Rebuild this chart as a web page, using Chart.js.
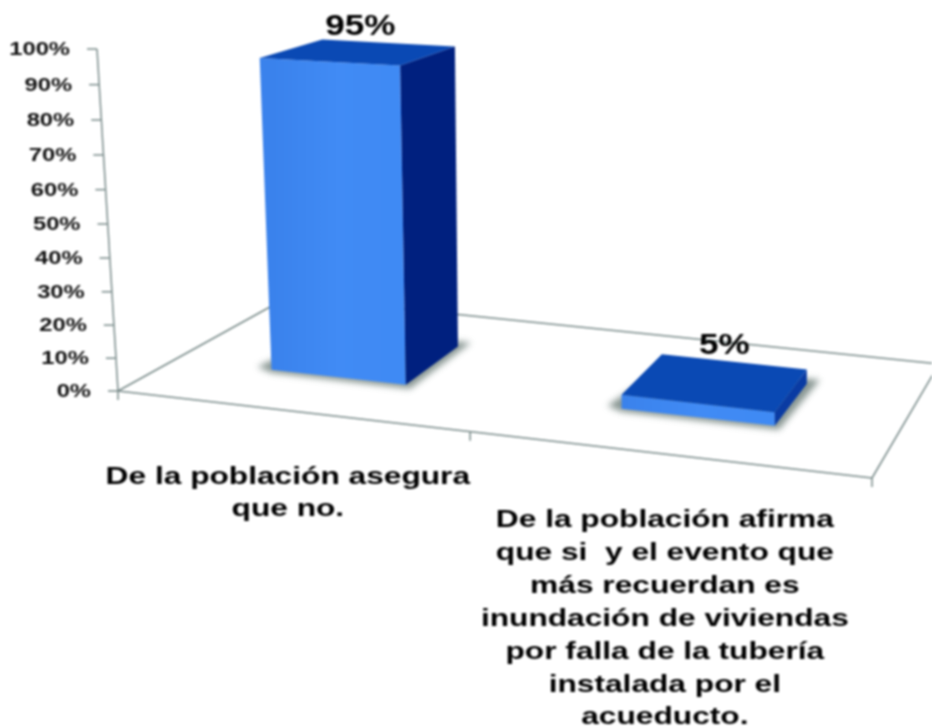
<!DOCTYPE html>
<html>
<head>
<meta charset="utf-8">
<title>Chart</title>
<script src="https://cdn.jsdelivr.net/npm/chart.js@4"></script>
<style>
  html, body { margin: 0; background: #fff; overflow: hidden; }
  canvas { display: block; filter: blur(0.8px); }
</style>
</head>
<body>
<canvas id="myChart" width="932" height="727"></canvas>
<script>
const categories = [
    ['De la población asegura', 'que no.'],
    ['De la población afirma', 'que si  y el evento que', 'más recuerdan es', 'inundación de viviendas', 'por falla de la tubería', 'instalada por el', 'acueducto.']
];
const percentages = [95, 5];

// floor corners of the 3d box, the chart area is the front edge A-B
const A = {x: 118, y: 391}, B = {x: 872, y: 478}, C = {x: 939, y: 364}, D = {x: 288, y: 297};
const depthFront = 0.34, depthBack = 0.72;
const WIDE = 1.32;
const LINE = '#788a89';
const INK = '#000';
const sideColors = ['#00207f', '#0a3ba3'];
const labelShift = [1, 8];

// perspective squeeze of the category axis
function warp(f) {
    return f - 0.132 * f * (1 - f);
}

function floor(f, v) {
    const w = warp(f);
    const fx = A.x + (B.x - A.x) * w, fy = A.y + (B.y - A.y) * w;
    const bx = D.x + (C.x - D.x) * w, by = D.y + (C.y - D.y) * w;
    return {x: fx + (bx - fx) * v, y: fy + (by - fy) * v};
}

// lift a floor point by h scale pixels, heights shrink and lean with the view
function lift(p, h) {
    const s = 1 - Math.abs(A.y - p.y) * 0.00154;
    const tilt = Math.max(0, 0.061 - (p.x - A.x) * 0.00015);
    const up = h * s - 2.5;
    return {x: p.x - up * tilt, y: p.y - up};
}

function poly(ctx, pts, fill) {
    ctx.beginPath();
    pts.forEach((p, i) => i ? ctx.lineTo(p.x, p.y) : ctx.moveTo(p.x, p.y));
    ctx.closePath();
    ctx.fillStyle = fill;
    ctx.fill();
}

function line(ctx, a, b) {
    ctx.beginPath();
    ctx.moveTo(a.x, a.y);
    ctx.lineTo(b.x, b.y);
    ctx.stroke();
}

function wideText(ctx, str, x, y, sx, align) {
    ctx.save();
    ctx.translate(x, y);
    ctx.scale(sx, 1);
    ctx.textAlign = align;
    ctx.fillText(str, 0, 0);
    ctx.restore();
}

const box3d = {
    id: 'box3d',
    beforeDatasetsDraw(chart) {
        const ctx = chart.ctx;
        const yAxis = chart.scales.y;
        const top = {x: 97, y: yAxis.getPixelForValue(100)};
        const lean = (v) => A.x + (top.x - A.x) * v / 100;
        // the axis is a little compressed towards the floor
        const sag = (v) => 16 * (v / 100) * (1 - v / 100);

        ctx.save();
        ctx.strokeStyle = LINE;
        ctx.lineWidth = 1.5;
        line(ctx, D, A);
        line(ctx, A, B);
        line(ctx, B, C);
        line(ctx, D, C);
        line(ctx, top, A);

        yAxis.ticks.forEach((t) => {
            const py = yAxis.getPixelForValue(t.value) + sag(t.value);
            const px = lean(t.value);
            line(ctx, {x: px - 10, y: py}, {x: px, y: py});
            ctx.font = 'bold 18px "Liberation Sans"';
            ctx.fillStyle = '#111';
            ctx.textBaseline = 'middle';
            wideText(ctx, t.label, px - 27, py + 1, WIDE, 'right');
        });

        [0, 0.5, 1].forEach((f) => {
            const p = floor(f, 0);
            line(ctx, p, {x: p.x, y: p.y + 9});
        });
        ctx.restore();
    },
    beforeDatasetDraw(chart, args) {
        const ctx = chart.ctx;
        const {left, right} = chart.chartArea;
        const bars = chart.getDatasetMeta(args.index).data;

        bars.forEach((bar, i) => {
            const f1 = (bar.x - bar.width / 2 - left) / (right - left);
            const f2 = (bar.x + bar.width / 2 - left) / (right - left);
            const h = bar.base - bar.y;
            const fl = floor(f1, depthFront), fr = floor(f2, depthFront);
            const bl = floor(f1, depthBack), br = floor(f2, depthBack);
            const tfl = lift(fl, h), tfr = lift(fr, h), tbl = lift(bl, h), tbr = lift(br, h);

            // soft shadow on the floor
            ctx.save();
            ctx.filter = 'blur(3px)';
            const shadow = [
                {x: fl.x - 14, y: fl.y - 3}, {x: fl.x, y: fl.y + 3},
                {x: fr.x + 4, y: fr.y + 4}, {x: br.x + 13, y: br.y - 4}, bl
            ];
            poly(ctx, shadow, 'rgba(85,105,100,0.7)');
            ctx.restore();

            const grad = ctx.createLinearGradient(fl.x, 0, fr.x, 0);
            grad.addColorStop(0, '#3a82ec');
            grad.addColorStop(0.5, '#418bf5');
            grad.addColorStop(1, '#3f8af4');
            poly(ctx, [tfl, tfr, fr, fl], grad);
            poly(ctx, [tfr, tbr, br, fr], sideColors[i]);
            poly(ctx, [tfl, tbl, tbr, tfr], '#0a49b4');
        });
        return false;
    },
    afterDatasetsDraw(chart) {
        const ctx = chart.ctx;
        const {left, right} = chart.chartArea;
        const xAxis = chart.scales.x;
        const bars = chart.getDatasetMeta(0).data;

        ctx.save();
        ctx.fillStyle = INK;
        ctx.textBaseline = 'alphabetic';

        bars.forEach((bar, i) => {
            const f1 = (bar.x - bar.width / 2 - left) / (right - left);
            const f2 = (bar.x + bar.width / 2 - left) / (right - left);
            const h = bar.base - bar.y;
            const corners = [floor(f1, depthFront), floor(f2, depthFront), floor(f2, depthBack), floor(f1, depthBack)].map(p => lift(p, h));
            const cx = corners.reduce((s, p) => s + p.x, 0) / 4;
            const backY = (corners[2].y + corners[3].y) / 2;
            ctx.font = 'bold 30px "Liberation Sans"';
            wideText(ctx, percentages[i] + '%', cx + labelShift[i], backY - 8, 1.17, 'center');
        });

        ctx.font = 'bold 24px "Liberation Sans"';
        categories.forEach((lines, i) => {
            const f = (xAxis.getPixelForValue(i) - left) / (right - left);
            const p = floor(f, 0);
            lines.forEach((txt, n) => {
                wideText(ctx, txt, p.x, p.y + 73 + n * 32.9, WIDE, 'center');
            });
        });
        ctx.restore();
    }
};

let myChart = document.getElementById('myChart').getContext('2d');

let barChart = new Chart(myChart, {
    type: 'bar',
    plugins: [box3d],
    data: {
        labels: categories,
        datasets: [{
            label: 'Población',
            data: percentages,
            barPercentage: 0.4,
            categoryPercentage: 1
        }]
    },
    options: {
        responsive: false,
        animation: false,
        layout: {
            padding: {left: 118, right: 60, top: 49, bottom: 336}
        },
        plugins: {
            legend: {display: false},
            tooltip: {enabled: false}
        },
        scales: {
            x: {display: false},
            y: {
                display: false,
                min: 0,
                max: 100,
                ticks: {
                    stepSize: 10,
                    callback: (v) => v + '%'
                }
            }
        }
    }
});
</script>
</body>
</html>
